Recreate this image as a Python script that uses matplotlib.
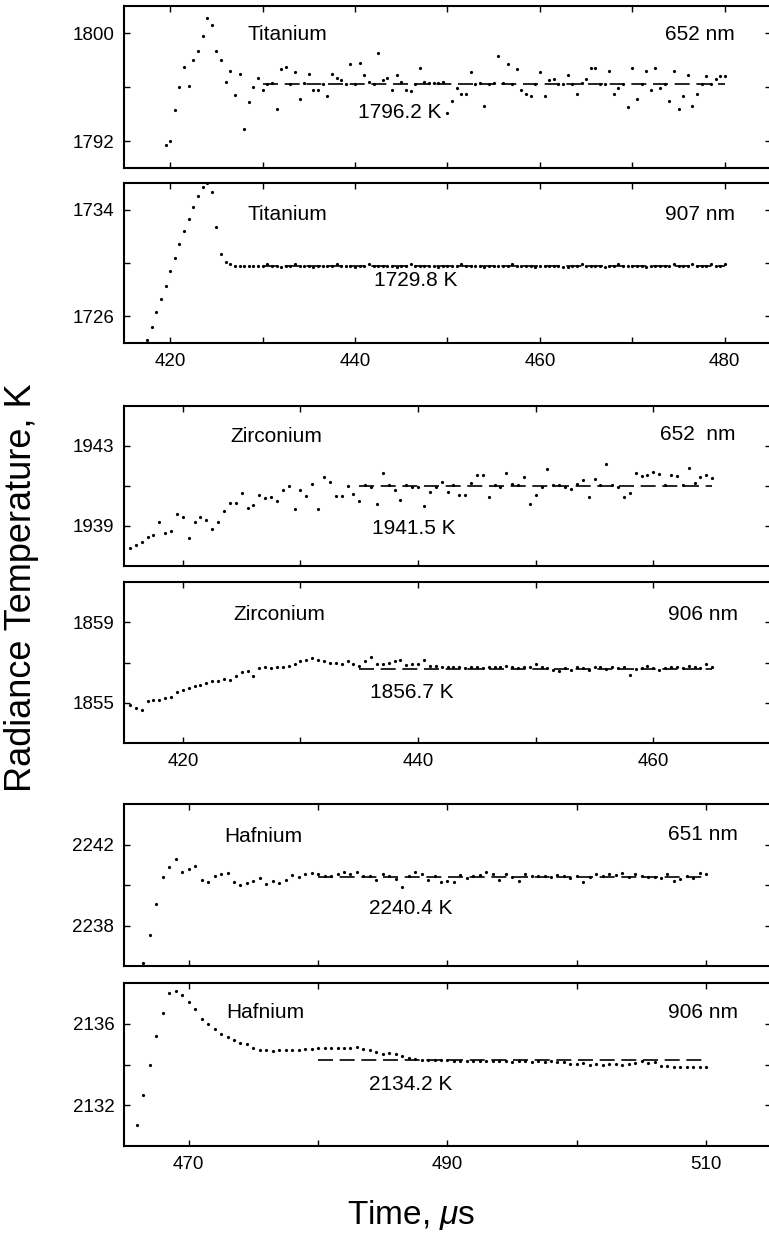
import numpy as np
import matplotlib
matplotlib.use("Agg")
import matplotlib.pyplot as plt

plt.rcParams['font.family'] = ['Liberation Sans', 'DejaVu Sans']
plt.rcParams['mathtext.fontset'] = 'custom'
plt.rcParams['mathtext.rm'] = 'Liberation Sans'
plt.rcParams['mathtext.it'] = 'Liberation Sans:italic'

# /=========================================================================
# data (time in us, radiance temperature in K)

ti652_t0 = 419.5
ti652 = [1791.7, 1792.0, 1794.3, 1796.0, 1797.5, 1796.1, 1798.0, 1798.7, 1799.8, 1801.1,
         1800.6, 1798.7, 1798.0, 1796.4, 1797.2, 1795.4, 1797.0, 1792.9, 1794.9, 1796.0,
         1796.7, 1795.8, 1796.2, 1796.3, 1794.4, 1797.3, 1797.5, 1796.2, 1797.1, 1795.1,
         1796.3, 1797.0, 1795.8, 1795.8, 1796.2, 1795.3, 1797.0, 1796.7, 1796.5, 1796.2,
         1797.7, 1796.2, 1797.8, 1796.9, 1796.4, 1796.2, 1798.5, 1796.5, 1796.7, 1795.8,
         1796.9, 1796.4, 1795.8, 1795.7, 1796.2, 1797.4, 1796.4, 1796.3, 1796.3, 1796.3,
         1796.4, 1794.1, 1795.0, 1795.9, 1795.5, 1795.5, 1797.1, 1796.2, 1796.3, 1794.6,
         1796.2, 1796.3, 1798.3, 1796.3, 1797.7, 1796.2, 1797.3, 1795.8, 1795.5, 1795.3,
         1796.2, 1797.1, 1795.3, 1796.5, 1796.6, 1796.2, 1796.2, 1796.9, 1796.2, 1795.5,
         1796.3, 1796.6, 1797.4, 1797.4, 1796.2, 1796.2, 1797.2, 1795.5, 1795.9, 1796.2,
         1794.5, 1797.4, 1795.1, 1796.2, 1797.2, 1795.8, 1797.4, 1795.9, 1796.2, 1795.0,
         1797.2, 1794.4, 1795.3, 1796.9, 1794.6, 1795.5, 1796.2, 1796.8, 1796.2, 1796.6,
         1796.8, 1796.8]

ti907_t0 = 417.5
ti907 = [1724.2, 1725.2, 1726.3, 1727.3, 1728.3, 1729.4, 1730.4, 1731.4, 1732.4, 1733.3,
         1734.2, 1735.0, 1735.7, 1736.0, 1735.3, 1732.7, 1730.7, 1730.1, 1729.9, 1729.8,
         1729.8, 1729.8, 1729.8, 1729.8, 1729.8, 1729.8, 1729.9, 1729.8, 1729.8, 1729.7,
         1729.8, 1729.8, 1729.9, 1729.8, 1729.8, 1729.8, 1729.7, 1729.8, 1729.8, 1729.8,
         1729.8, 1729.9, 1729.8, 1729.8, 1729.8, 1729.7, 1729.8, 1729.8, 1729.9, 1729.8,
         1729.8, 1729.8, 1729.8, 1729.8, 1729.7, 1729.8, 1729.8, 1729.9, 1729.8, 1729.8,
         1729.8, 1729.8, 1729.8, 1729.7, 1729.8, 1729.8, 1729.8, 1729.8, 1729.9, 1729.8,
         1729.8, 1729.8, 1729.8, 1729.7, 1729.8, 1729.8, 1729.8, 1729.8, 1729.8, 1729.9,
         1729.8, 1729.8, 1729.8, 1729.8, 1729.7, 1729.8, 1729.8, 1729.8, 1729.8, 1729.8,
         1729.7, 1729.7, 1729.8, 1729.8, 1729.9, 1729.8, 1729.8, 1729.8, 1729.8, 1729.7,
         1729.8, 1729.8, 1729.9, 1729.8, 1729.8, 1729.8, 1729.8, 1729.8, 1729.7, 1729.8,
         1729.8, 1729.8, 1729.8, 1729.8, 1729.9, 1729.8, 1729.8, 1729.8, 1729.9, 1729.8,
         1729.8, 1729.8, 1729.9, 1729.8, 1729.8, 1729.9]

zr652_t0 = 415.5
zr652 = [1937.89, 1938.06, 1938.22, 1938.47, 1938.55, 1939.22, 1938.64, 1938.75, 1939.58, 1939.47,
         1938.42, 1939.22, 1939.43, 1939.30, 1938.85, 1939.22, 1939.75, 1940.13, 1940.16, 1940.63,
         1939.88, 1940.05, 1940.54, 1940.38, 1940.46, 1940.25, 1940.79, 1941.01, 1939.85, 1940.79,
         1940.51, 1941.12, 1939.85, 1941.46, 1941.21, 1940.51, 1940.51, 1941.01, 1940.58, 1940.25,
         1941.04, 1940.96, 1940.08, 1941.67, 1941.04, 1940.79, 1940.30, 1941.04, 1940.96, 1940.96,
         1940.01, 1940.71, 1940.96, 1941.21, 1940.71, 1941.04, 1940.54, 1940.54, 1941.17, 1941.54,
         1941.57, 1940.46, 1941.04, 1940.96, 1941.67, 1941.12, 1941.04, 1941.46, 1940.08, 1940.54,
         1940.96, 1941.84, 1941.04, 1941.04, 1940.96, 1940.87, 1941.12, 1941.29, 1940.46, 1941.37,
         1941.04, 1942.12, 1941.04, 1940.96, 1940.46, 1940.63, 1941.67, 1941.50, 1941.57, 1941.70,
         1941.62, 1941.04, 1941.57, 1941.50, 1941.04, 1941.90, 1941.17, 1941.46, 1941.57, 1941.40]

zr906_t0 = 415.5
zr906 = [1854.87, 1854.75, 1854.66, 1855.08, 1855.15, 1855.15, 1855.25, 1855.31, 1855.53, 1855.64,
         1855.74, 1855.85, 1855.90, 1855.97, 1856.07, 1856.10, 1856.18, 1856.13, 1856.35, 1856.51,
         1856.56, 1856.35, 1856.72, 1856.76, 1856.72, 1856.76, 1856.79, 1856.84, 1856.92, 1857.05,
         1857.12, 1857.22, 1857.12, 1857.05, 1857.00, 1857.00, 1856.95, 1857.05, 1856.95, 1856.84,
         1857.09, 1857.28, 1856.95, 1856.92, 1857.00, 1857.09, 1857.12, 1856.89, 1856.92, 1856.95,
         1857.12, 1856.84, 1856.84, 1856.79, 1856.79, 1856.76, 1856.79, 1856.72, 1856.76, 1856.79,
         1856.72, 1856.76, 1856.79, 1856.76, 1856.84, 1856.79, 1856.72, 1856.76, 1856.79, 1856.92,
         1856.76, 1856.72, 1856.63, 1856.56, 1856.72, 1856.63, 1856.76, 1856.72, 1856.63, 1856.79,
         1856.76, 1856.67, 1856.79, 1856.72, 1856.76, 1856.40, 1856.67, 1856.72, 1856.84, 1856.72,
         1856.63, 1856.72, 1856.76, 1856.79, 1856.72, 1856.84, 1856.76, 1856.72, 1856.92, 1856.79]

hf651_t0 = 466.5
hf651 = [2236.16, 2237.52, 2239.07, 2240.39, 2240.88, 2241.26, 2240.65, 2240.81, 2240.93, 2240.27,
         2240.16, 2240.44, 2240.55, 2240.60, 2240.16, 2240.02, 2240.11, 2240.19, 2240.35, 2240.06,
         2240.22, 2240.11, 2240.27, 2240.49, 2240.39, 2240.52, 2240.60, 2240.52, 2240.44, 2240.44,
         2240.52, 2240.65, 2240.55, 2240.65, 2240.44, 2240.44, 2240.27, 2240.52, 2240.44, 2240.32,
         2239.89, 2240.44, 2240.65, 2240.52, 2240.27, 2240.44, 2240.16, 2240.22, 2240.16, 2240.49,
         2240.35, 2240.44, 2240.49, 2240.65, 2240.55, 2240.27, 2240.52, 2240.39, 2240.22, 2240.55,
         2240.44, 2240.44, 2240.44, 2240.39, 2240.49, 2240.44, 2240.35, 2240.44, 2240.16, 2240.39,
         2240.52, 2240.44, 2240.52, 2240.49, 2240.60, 2240.39, 2240.52, 2240.44, 2240.39, 2240.39,
         2240.35, 2240.52, 2240.22, 2240.32, 2240.44, 2240.35, 2240.60, 2240.52]

hf906_t0 = 466.0
hf906 = [2131.02, 2132.49, 2133.99, 2135.38, 2136.53, 2137.51, 2137.60, 2137.39, 2137.07, 2136.74,
         2136.25, 2136.00, 2135.76, 2135.51, 2135.35, 2135.19, 2135.06, 2134.99, 2134.83, 2134.73,
         2134.70, 2134.66, 2134.70, 2134.70, 2134.73, 2134.73, 2134.78, 2134.78, 2134.83, 2134.83,
         2134.83, 2134.83, 2134.83, 2134.83, 2134.86, 2134.78, 2134.70, 2134.61, 2134.53, 2134.57,
         2134.50, 2134.40, 2134.34, 2134.29, 2134.24, 2134.24, 2134.24, 2134.21, 2134.21, 2134.17,
         2134.17, 2134.17, 2134.17, 2134.17, 2134.17, 2134.17, 2134.17, 2134.17, 2134.12, 2134.17,
         2134.17, 2134.12, 2134.17, 2134.12, 2134.17, 2134.12, 2134.12, 2134.04, 2134.01, 2134.08,
         2133.96, 2134.01, 2133.96, 2134.04, 2134.01, 2133.96, 2134.04, 2134.08, 2134.17, 2134.08,
         2134.12, 2133.91, 2133.91, 2133.88, 2133.88, 2133.88, 2133.88, 2133.88, 2133.88]

# fitted plateau levels: (start, end, value) and the printed labels
levels = [(430, 480, 1796.2), (430, 480, 1729.8), (435, 465, 1941.0),
          (435, 465, 1856.7), (480, 510, 2240.4), (480, 510, 2134.2)]
level_labels = ["1796.2 K", "1729.8 K", "1941.5 K", "1856.7 K", "2240.4 K", "2134.2 K"]
metals = ["Titanium", "Titanium", "Zirconium", "Zirconium", "Hafnium", "Hafnium"]
waves = ["652 nm", "907 nm", "652  nm", "906 nm", "651 nm", "906 nm"]

series = [(ti652_t0, ti652), (ti907_t0, ti907), (zr652_t0, zr652),
          (zr906_t0, zr906), (hf651_t0, hf651), (hf906_t0, hf906)]

xlims = [(415, 485), (415, 485), (415, 470), (415, 470), (465, 515), (465, 515)]
ylims = [(1790, 1802), (1724, 1736), (1937, 1945), (1853, 1861), (2236, 2244), (2130, 2138)]
yticks = [[1792, 1796, 1800], [1726, 1730, 1734], [1939, 1941, 1943],
          [1855, 1857, 1859], [2238, 2240, 2242], [2132, 2134, 2136]]
xticks = [np.arange(420, 481, 10), np.arange(420, 481, 10), np.arange(420, 461, 10),
          np.arange(420, 461, 10), np.arange(470, 511, 10), np.arange(470, 511, 10)]

# =========================================================================/

W, H = 769, 1235
fig = plt.figure(figsize=(W/100, H/100), dpi=100)

left, right = 124, 771
# top, bottom of every panel in pixels
boxes = [(6, 168), (183, 343), (406, 566), (582, 743), (804, 966), (983, 1146)]
# text anchors in pixels: metal (left x, y), wavelength (right x, y), level (center x, y)
metal_pos = [(247, 34), (247, 215), (230, 436), (233, 614), (224, 836), (226, 1013)]
wave_pos = [(735, 34), (735, 215), (735, 435), (738, 614), (738, 835), (738, 1012)]
lev_pos = [(400, 112), (416, 280), (414, 529), (412, 692), (411, 909), (411, 1084)]

for i in range(6):
    top, bot = boxes[i]
    ax = fig.add_axes([left/W, 1 - bot/H, (right - left)/W, (bot - top)/H])

    t0, vals = series[i]
    t = t0 + 0.5*np.arange(len(vals))
    ax.plot(t, vals, 'o', ms=2.3, mew=0, color='k', clip_on=True)

    a, b, lev = levels[i]
    ax.plot([a, b], [lev, lev], color='k', lw=1.2, dashes=(9, 4))

    ax.set_xlim(*xlims[i])
    ax.set_ylim(*ylims[i])
    ax.set_yticks(yticks[i])
    ax.set_yticklabels([str(yticks[i][0]), '', str(yticks[i][2])])
    ax.set_xticks(xticks[i])
    ax.set_xticklabels([str(v) if k % 2 == 0 else '' for k, v in enumerate(xticks[i])])

    ax.tick_params(direction='in', length=4, width=1.0, top=True, right=True,
                   labelsize=13.5, pad=7)
    if i % 2 == 0:
        ax.tick_params(labelbottom=False)
    for sp in ax.spines.values():
        sp.set_linewidth(1.5)

    def frac(px, py):
        return (px - left)/(right - left), (bot - py)/(bot - top)

    ax.text(*frac(*metal_pos[i]), metals[i], transform=ax.transAxes,
            ha='left', va='center', fontsize=15)
    ax.text(*frac(*wave_pos[i]), waves[i], transform=ax.transAxes,
            ha='right', va='center', fontsize=15)
    ax.text(*frac(*lev_pos[i]), level_labels[i], transform=ax.transAxes,
            ha='center', va='center', fontsize=15)

fig.text(22/W, 1 - 588/H, "Radiance Temperature, K", rotation=90,
         ha='center', va='center', fontsize=26)
fig.text(411/W, 1 - 1215/H, r"Time, $\mu$s", ha='center', va='center', fontsize=24)

fig.savefig("out.png", dpi=100)
